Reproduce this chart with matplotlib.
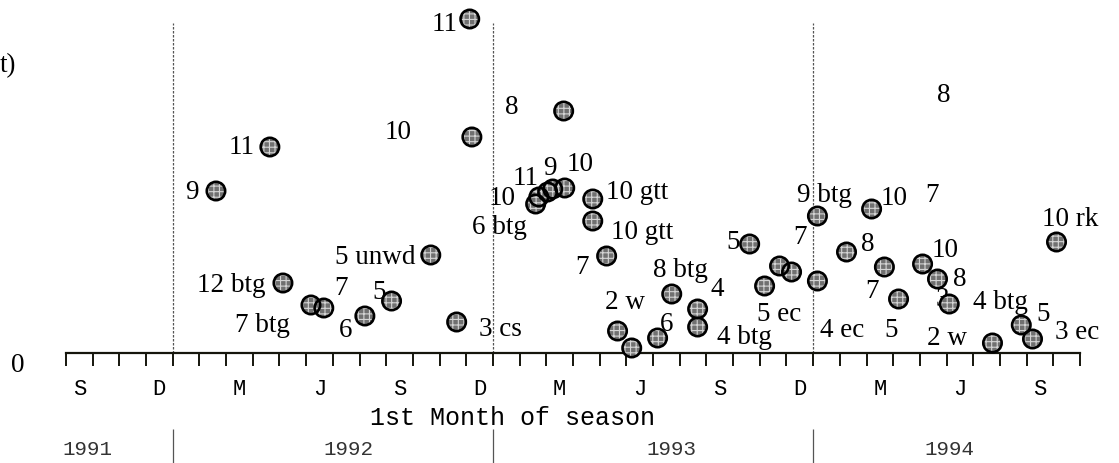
import numpy as np
import matplotlib.pyplot as plt

# month index: 0 = start of Sep 1991, one unit per month
month_pos = [5.62, 7.64, 8.13, 9.18, 9.66, 11.2, 12.2, 13.67, 14.64, 15.21,
             15.13, 18.65, 17.6, 17.72, 18.05, 18.24, 18.69, 19.74, 19.74, 20.26,
             20.67, 21.2, 22.17, 22.7, 23.67, 23.67, 25.62, 26.18, 26.74, 27.19,
             28.16, 28.16, 29.25, 30.19, 30.67, 31.2, 32.1, 32.66, 33.1, 34.72,
             35.8, 36.22, 37.12]
values = [16.2, 20.6, 7.0, 4.8, 4.5, 3.7, 5.2, 9.8, 3.1, 21.6,
          33.4, 24.2, 14.9, 15.6, 16.1, 16.4, 16.5, 15.4, 13.2, 9.7,
          2.2, 0.5, 1.5, 5.9, 4.4, 2.6, 10.9, 6.7, 8.7, 8.1,
          13.7, 7.2, 10.1, 14.4, 8.6, 5.4, 8.9, 7.4, 4.9, 1.0,
          2.8, 1.4, 11.1]
point_labels = ["9", "11", "12 btg", "7 btg", "7", "6", "5", "5 unwd", "3 cs", "10",
                "11", "8", "6 btg", "10", "11", "9", "10", "10 gtt", "10 gtt", "7",
                "2 w", "", "6", "8 btg", "4", "4 btg", "5", "5 ec", "", "7",
                "9 btg", "4 ec", "8", "10", "7", "5", "10", "8", "3", "2 w",
                "4 btg", "3 ec", "10 rk"]
# label offsets from the point, in pixels (x right, y down)
label_offsets = [(-24, -2), (-28, -3), (-52, -1), (-49, 17), (17, -23), (-19, 11), (-12, -12),
                 (-56, -1), (44, 4), (-74, -8), (-25, 2), (-52, -7), (-36, 20), (-37, -2),
                 (-22, -17), (-3, -24), (15, -27), (44, -10), (49, 8), (-25, 8), (7, -32),
                 (0, 0), (9, -17), (9, -27), (20, -23), (47, 7), (-17, -5), (15, 25), (0, 0),
                 (8, -38), (7, -24), (25, 46), (21, -11), (23, -14), (-12, 21), (-7, 28),
                 (23, -17), (22, -3), (-7, -8), (-45, -8), (-21, -26), (45, -10), (14, -26)]

# loose numbers with no marker next to them
note_text = ["8", "7", "5"]
note_x = [32.88, 32.47, 36.6]
note_y = [26.1, 16.1, 4.2]

month_letters = ["S", "D", "M", "J", "S", "D", "M", "J", "S", "D", "M", "J", "S"]
year_names = ["1991", "1992", "1993", "1994"]
year_label_x = [0.8, 10.6, 22.7, 33.1]
year_bounds = [4, 16, 28]

serif = "Liberation Serif"
mono = "Liberation Mono"
px = 0.72  # pixels -> points at dpi 100

fig = plt.figure(figsize=(11.19, 4.64), dpi=100)
ax = fig.add_axes([66 / 1119, 110 / 464, 1014 / 1119, 349 / 464])
ax.set_xlim(0, 38)
ax.set_ylim(0, 34.9)

for s in ["top", "right", "left"]:
    ax.spines[s].set_visible(False)
ax.spines["bottom"].set_linewidth(1.6)
ax.spines["bottom"].set_color("#15150c")

ax.set_xticks(np.arange(0, 39))
ax.set_xticklabels([])
ax.tick_params(axis="x", which="major", direction="out", length=9.4, width=1.4, color="#15150c")
ax.set_xticks(np.arange(0.5, 38, 3), minor=True)
ax.set_xticklabels(month_letters, minor=True, fontfamily=mono, fontsize=16)
ax.tick_params(axis="x", which="minor", length=0, pad=18)
ax.set_yticks([])

# season/year separators
ax.vlines(year_bounds, 0, 33, colors="#555555", linewidth=0.9, linestyles=(0, (2, 1.2)))
ax.vlines(year_bounds, -11.0, -7.6, colors="#555555", linewidth=0.9, clip_on=False)

plt.rcParams["hatch.linewidth"] = 0.8
ax.scatter(month_pos, values, s=175, facecolor="#707070", edgecolor="#d4d4d4",
           linewidths=0, hatch="+++", zorder=3, clip_on=False)
ax.scatter(month_pos, values, s=175, facecolor="none", edgecolor="black",
           linewidths=1.9, zorder=4, clip_on=False)

for x, y, t, (dx, dy) in zip(month_pos, values, point_labels, label_offsets):
    if t:
        ax.annotate(t, (x, y), xytext=(dx * px, -(dy + 9) * px), textcoords="offset points",
                    ha="center", va="baseline", fontsize=19.5, family=serif, zorder=2,
                    annotation_clip=False)
for x, y, t in zip(note_x, note_y, note_text):
    ax.annotate(t, (x, y), xytext=(0, -9 * px), textcoords="offset points",
                ha="center", va="baseline", fontsize=19.5, family=serif)

ax.annotate("0", (0, 0), xytext=(-48 * px, -18 * px), textcoords="offset points",
            ha="center", va="baseline", fontsize=19.5, family=serif, annotation_clip=False)
ax.annotate("1st Month of season", (0, 0), xytext=(446 * px, -71 * px),
            textcoords="offset points", ha="center", va="baseline", fontsize=18,
            family=mono, annotation_clip=False)
for x, name in zip(year_label_x, year_names):
    ax.annotate(name, (x, 0), xytext=(0, -101 * px), textcoords="offset points",
                ha="center", va="baseline", fontsize=15, family=mono, color="#333333",
                annotation_clip=False)

fig.text(0.0, 1 - 72 / 464, "t)", fontsize=19.5, family=serif, ha="left", va="baseline")

fig.savefig("out.png", dpi=100)
